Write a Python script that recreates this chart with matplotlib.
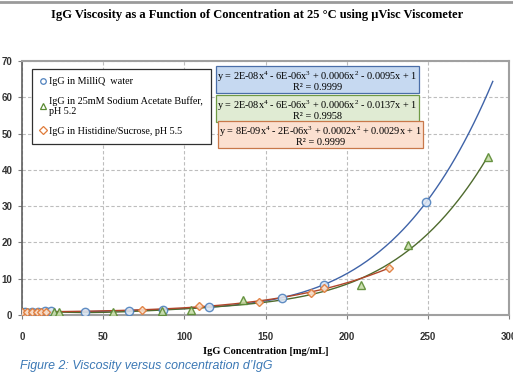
import numpy as np
import matplotlib
matplotlib.use("Agg")
import matplotlib.pyplot as plt
from matplotlib.lines import Line2D

# ---- data ----
water_x = [2, 6, 10, 14, 18, 39, 66, 87, 115, 160, 186, 249]
water_y = [0.9, 0.9, 0.95, 1.0, 1.0, 0.95, 1.0, 1.5, 2.3, 4.8, 8.3, 31.1]
acetate_x = [20, 23, 56, 86, 104, 136, 209, 238, 287]
acetate_y = [0.9, 0.9, 0.9, 1.0, 1.3, 4.2, 8.3, 19.2, 43.5]
hist_x = [0, 3, 6, 9, 12, 15, 74, 109, 146, 178, 186, 226]
hist_y = [0.8, 0.85, 0.85, 0.9, 0.9, 0.9, 1.3, 2.5, 3.7, 6.2, 7.4, 12.9]

series_labels = ["IgG in MilliQ  water",
                 "IgG in 25mM Sodium Acetate Buffer,\npH 5.2",
                 "IgG in Histidine/Sucrose, pH 5.5"]
equations = ["y = 2E-08x$^4$ - 6E-06x$^3$ + 0.0006x$^2$ - 0.0095x + 1\nR² = 0.9999",
             "y = 2E-08x$^4$ - 6E-06x$^3$ + 0.0006x$^2$ - 0.0137x + 1\nR² = 0.9958",
             "y = 8E-09x$^4$ - 2E-06x$^3$ + 0.0002x$^2$ + 0.0029x + 1\nR² = 0.9999"]
trend_end = [290, 287, 226]

title = "IgG Viscosity as a Function of Concentration at 25 °C using μVisc Viscometer"
xlabel = "IgG Concentration [mg/mL]"
caption = "Figure 2: Viscosity versus concentration d\u2019IgG"
xticks = [0, 50, 100, 150, 200, 250, 300]
yticks = [0, 10, 20, 30, 40, 50, 60, 70]

# ---- styling ----
line_cols = ["#3f63a8", "#4f6b2e", "#b0462a"]
edge_cols = ["#4f81bd", "#5a8a32", "#e07b39"]
face_cols = ["#dbe5f3", "#c7dca8", "#fbe0cc"]
markers = ["o", "^", "D"]
msizes = [6, 6, 4.5]
box_face = ["#c6d9f1", "#e0ebd3", "#fbe0d0"]
box_edge = ["#4a6ea8", "#6f9a45", "#c8784a"]

plt.rcParams["mathtext.fontset"] = "custom"
plt.rcParams["mathtext.rm"] = "Liberation Serif"
plt.rcParams["mathtext.it"] = "Liberation Serif:italic"
plt.rcParams["mathtext.bf"] = "Liberation Serif:bold"

fig = plt.figure(figsize=(5.13, 3.84), dpi=100)
fig.patch.set_facecolor("white")
ax = fig.add_axes([22/513, 69/384, 487/513, 254/384])

xs_all = [water_x, acetate_x, hist_x]
ys_all = [water_y, acetate_y, hist_y]

for i in range(3):
    x = np.array(xs_all[i], float)
    y = np.array(ys_all[i], float)
    c = np.polyfit(x, y, 4)
    xx = np.linspace(0, trend_end[i], 300)
    ax.plot(xx, np.polyval(c, xx), color=line_cols[i], lw=1.0, zorder=3)
for i in range(3):
    ax.plot(xs_all[i], ys_all[i], linestyle="none", marker=markers[i], ms=msizes[i],
            mec=edge_cols[i], mfc=face_cols[i], mew=1.0, alpha=0.9, zorder=4)

ax.set_xlim(0, 300)
ax.set_ylim(0, 70)
ax.set_xticks(xticks)
ax.set_yticks(yticks)
ax.grid(True, color="#bdbdbd", linestyle=(0, (3, 2)), lw=0.8)
ax.set_axisbelow(True)
for s in ["top", "right", "bottom"]:
    ax.spines[s].set_color("#a0a0a0")
    ax.spines[s].set_linewidth(1.5)
ax.spines["left"].set_color("#606060")
ax.spines["left"].set_linewidth(1.2)
ax.tick_params(axis="both", length=3, width=0.8, color="#808080", labelsize=7)
ax.tick_params(axis="x", pad=9)
ax.tick_params(axis="y", pad=4)
for lab in ax.get_xticklabels() + ax.get_yticklabels():
    lab.set_fontweight("bold")
    lab.set_family("Liberation Sans")
    lab.set_color("#333333")

ax.set_xlabel(xlabel, fontsize=7.5, fontweight="bold", family="Liberation Serif", labelpad=4)

# legend
handles = [Line2D([], [], linestyle="none", marker=markers[i], ms=4, mec=edge_cols[i],
                  mfc="white", mew=0.9) for i in range(3)]
leg = ax.legend(handles, series_labels, loc="upper left", bbox_to_anchor=(10/487, 1 - 8/254),
                prop={"family": "Liberation Serif", "size": 7.3}, frameon=True, fancybox=False,
                handlelength=0.6, handletextpad=0.3, borderpad=0.8, labelspacing=1.0,
                borderaxespad=0)
leg.get_frame().set_edgecolor("#303030")
leg.get_frame().set_linewidth(0.9)
leg.get_frame().set_facecolor("white")
leg.get_frame().set_alpha(1)
leg.set_zorder(6)

# equation boxes (figure pixel coords -> fraction)
box_pos = [(317.5, 80.5), (317.5, 109.5), (320.5, 135.5)]
for i in range(3):
    fig.text(box_pos[i][0]/513, 1 - box_pos[i][1]/384, equations[i], ha="center", va="center",
             family="Liberation Serif", fontsize=7.4, linespacing=0.9, zorder=7,
             bbox=dict(boxstyle="square,pad=0.12", fc=box_face[i], ec=box_edge[i], lw=0.9))

fig.text(257/513, 1 - 15/384, title, ha="center", va="center", family="Liberation Serif",
         fontsize=9.0, fontweight="bold")
fig.add_artist(Line2D([0, 1], [1 - 1.5/384, 1 - 1.5/384], transform=fig.transFigure,
                      color="#9a9a9a", lw=2))
fig.text(20/513, 1 - 366.5/384, caption, ha="left", va="center",
         family=["Liberation Sans", "DejaVu Sans"], style="italic",
         fontsize=8.9, color="#3b78b5")

fig.savefig("out.png", dpi=100)
